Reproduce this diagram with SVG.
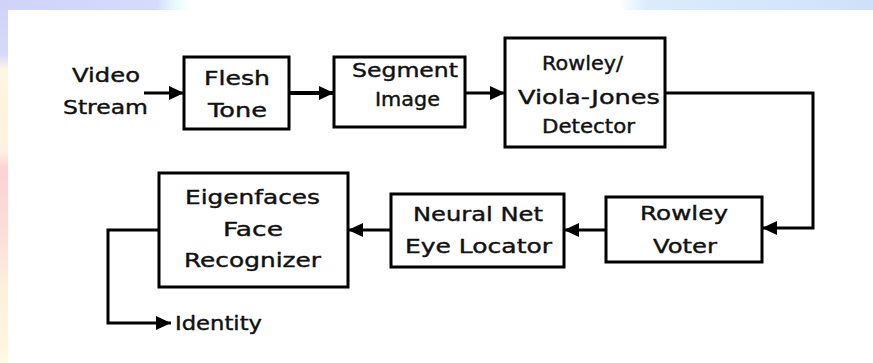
<svg xmlns="http://www.w3.org/2000/svg" width="873" height="363" viewBox="0 0 873 363">
<defs>
<style>
.box{fill:#fff;stroke:#000;stroke-width:3}
.ln{fill:none;stroke:#000;stroke-width:3}
text{font-family:"DejaVu Sans","Liberation Sans",sans-serif;font-size:19px;fill:#111;stroke:#111;stroke-width:0.4}
</style>
<marker id="ah" markerUnits="userSpaceOnUse" markerWidth="16" markerHeight="14" refX="15" refY="7" orient="auto">
<path d="M0,0 L15,7 L0,14 Z" fill="#000"/>
</marker>
<linearGradient id="topg" x1="0" y1="0" x2="1" y2="0">
<stop offset="0" stop-color="#d0d2fa"/>
<stop offset="0.18" stop-color="#d4dcfa"/>
<stop offset="0.2" stop-color="#e8fafc"/>
<stop offset="0.22" stop-color="#ffffff"/>
<stop offset="0.71" stop-color="#ffffff"/>
<stop offset="0.74" stop-color="#dcecfc"/>
<stop offset="1" stop-color="#d0e0fa"/>
</linearGradient>
<linearGradient id="leftg" x1="0" y1="0" x2="0" y2="1">
<stop offset="0" stop-color="#d0d2fa"/>
<stop offset="0.15" stop-color="#d8d8f8"/>
<stop offset="0.19" stop-color="#fdf6e0"/>
<stop offset="0.42" stop-color="#fdf2e0"/>
<stop offset="0.46" stop-color="#fcd2d6"/>
<stop offset="0.62" stop-color="#fcdcd8"/>
<stop offset="0.8" stop-color="#fdf0dc"/>
<stop offset="1" stop-color="#fef8e4"/>
</linearGradient>
</defs>
<rect width="873" height="363" fill="#fff"/>
<rect x="0" y="0" width="873" height="10" fill="url(#topg)"/>
<rect x="0" y="0" width="8" height="363" fill="url(#leftg)"/>

<g id="connectors">
<line class="ln" x1="144" y1="93" x2="184" y2="93" marker-end="url(#ah)"/>
<line class="ln" x1="289" y1="93" x2="334" y2="93" marker-end="url(#ah)" style="stroke-width:4"/>
<line class="ln" x1="465" y1="93" x2="505" y2="93" marker-end="url(#ah)"/>
<polyline class="ln" points="665,93 813,93 813,228 762,228" marker-end="url(#ah)"/>
<line class="ln" x1="606" y1="230" x2="564" y2="230" marker-end="url(#ah)"/>
<line class="ln" x1="391" y1="230" x2="348" y2="230" marker-end="url(#ah)"/>
<polyline class="ln" points="159,230 108,230 108,323 171,323" marker-end="url(#ah)"/>
</g>

<g id="video-stream">
<text x="72" y="82" textLength="68" lengthAdjust="spacingAndGlyphs">Video</text>
<text x="63" y="114" textLength="85" lengthAdjust="spacingAndGlyphs">Stream</text>
</g>

<g id="flesh-tone">
<rect class="box" x="184" y="57" width="105" height="72"/>
<text x="204" y="85" textLength="66" lengthAdjust="spacingAndGlyphs">Flesh</text>
<text x="208" y="117" textLength="59" lengthAdjust="spacingAndGlyphs">Tone</text>
</g>

<g id="segment-image">
<rect class="box" x="334" y="57" width="131" height="70"/>
<text x="352" y="77" textLength="106" lengthAdjust="spacingAndGlyphs">Segment</text>
<text x="375" y="106" textLength="65" lengthAdjust="spacingAndGlyphs">Image</text>
</g>

<g id="detector">
<rect class="box" x="505" y="38" width="160" height="109"/>
<text x="542" y="70" textLength="81" lengthAdjust="spacingAndGlyphs">Rowley/</text>
<text x="518" y="104" textLength="142" lengthAdjust="spacingAndGlyphs">Viola-Jones</text>
<text x="542" y="133" textLength="93" lengthAdjust="spacingAndGlyphs">Detector</text>
</g>

<g id="rowley-voter">
<rect class="box" x="606" y="197" width="156" height="65"/>
<text x="640" y="220" textLength="88" lengthAdjust="spacingAndGlyphs">Rowley</text>
<text x="653" y="253" textLength="64" lengthAdjust="spacingAndGlyphs">Voter</text>
</g>

<g id="eye-locator">
<rect class="box" x="391" y="194" width="173" height="73"/>
<text x="413" y="221" textLength="130" lengthAdjust="spacingAndGlyphs">Neural Net</text>
<text x="405" y="253" textLength="147" lengthAdjust="spacingAndGlyphs">Eye Locator</text>
</g>

<g id="face-recognizer">
<rect class="box" x="159" y="173" width="189" height="114"/>
<text x="185" y="204" textLength="135" lengthAdjust="spacingAndGlyphs">Eigenfaces</text>
<text x="223" y="236" textLength="60" lengthAdjust="spacingAndGlyphs">Face</text>
<text x="184" y="267" textLength="137" lengthAdjust="spacingAndGlyphs">Recognizer</text>
</g>

<g id="identity">
<text x="175" y="330" textLength="87" lengthAdjust="spacingAndGlyphs">Identity</text>
</g>
</svg>
